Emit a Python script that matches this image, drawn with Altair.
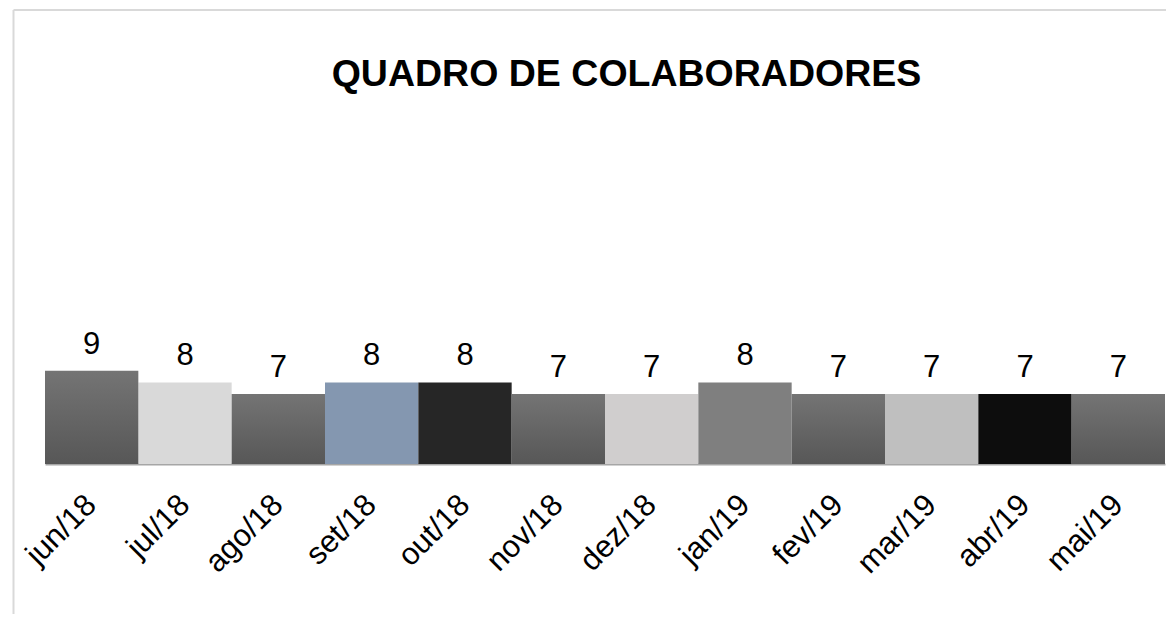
import altair as alt
import pandas as pd

months = ["jun/18", "jul/18", "ago/18", "set/18", "out/18", "nov/18",
          "dez/18", "jan/19", "fev/19", "mar/19", "abr/19", "mai/19"]
values = [9, 8, 7, 8, 8, 7, 7, 8, 7, 7, 7, 7]
fills = ["grad", "#d9d9d9", "grad", "#8497b0", "#262626", "grad",
         "#d0cece", "#7f7f7f", "grad", "#bfbfbf", "#0d0d0d", "grad"]
title_text = "QUADRO DE COLABORADORES"

df = pd.DataFrame({"mes": months, "valor": values, "cor": fills})

FONT = "Liberation Sans"
Y_MIN, Y_MAX = 1, 30
W, H = 1120, 338

x_enc = alt.X("mes:N", sort=months,
              scale=alt.Scale(paddingInner=0, paddingOuter=0),
              axis=alt.Axis(title=None, labelAngle=-45, labelAlign="right",
                            labelBaseline="middle", labelFontSize=31,
                            labelFont=FONT, labelColor="black",
                            labelPadding=36, ticks=False, tickSize=0,
                            domainColor="#a6a6a6", domainWidth=2,
                            grid=False, labelOverlap=False))
y_enc = alt.Y("valor:Q", scale=alt.Scale(domain=[Y_MIN, Y_MAX], zero=False, nice=False),
              axis=None)

base = alt.Chart(df).encode(x=x_enc, y=y_enc)

solid = base.transform_filter(alt.datum.cor != "grad").mark_bar().encode(
    y2=alt.datum(Y_MIN),
    fill=alt.Fill("cor:N", scale=None),
)

grad = base.transform_filter(alt.datum.cor == "grad").mark_bar(
    color=alt.Gradient(
        gradient="linear",
        stops=[alt.GradientStop(color="#747474", offset=0),
               alt.GradientStop(color="#575757", offset=1)],
        x1=0, x2=0, y1=0, y2=1,
    )
).encode(y2=alt.datum(Y_MIN))

labels = base.mark_text(font=FONT, fontSize=31, color="black",
                        baseline="alphabetic", dy=-17).encode(
    text=alt.Text("valor:Q"))

frame_data = alt.Data(values=[{"k": 1}])
top_line = alt.Chart(frame_data).mark_rule(color="#d9d9d9", strokeWidth=2).encode(
    x=alt.value(-31.5), x2=alt.value(1200), y=alt.value(-116))
left_line = alt.Chart(frame_data).mark_rule(color="#d9d9d9", strokeWidth=2).encode(
    x=alt.value(-31.5), y=alt.value(-116), y2=alt.value(700))

title = alt.Chart(alt.Data(values=[{"t": title_text}])).mark_text(
    font=FONT, fontSize=37.5, fontWeight="bold", color="black",
    align="center", baseline="alphabetic",
).encode(text="t:N", x=alt.value(581.5), y=alt.value(-40))

chart = alt.layer(top_line, left_line, solid, grad, labels, title).properties(
    width=W, height=H,
    background="white",
    autosize=alt.AutoSizeParams(type="none"),
    padding={"left": 37, "top": 118, "right": 1, "bottom": 150},
).configure_view(strokeWidth=0, stroke="transparent")

chart.save("out.html", embed_options={"renderer": "svg", "actions": False})
